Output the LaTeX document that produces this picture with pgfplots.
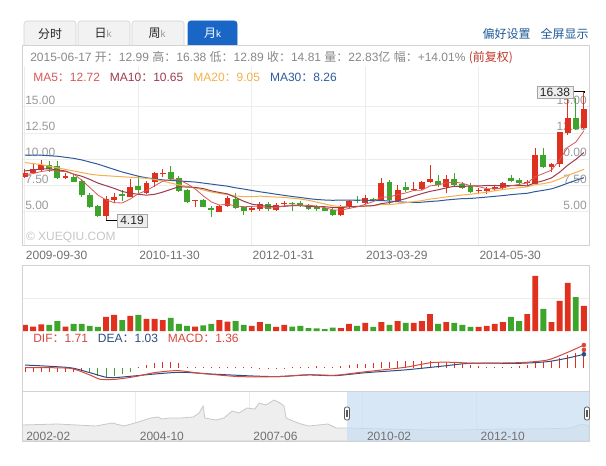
\documentclass[border=0pt]{standalone}
\usepackage{fontspec}
\setmainfont{Liberation Sans}
\newfontfamily\cjk{Noto Sans CJK SC}
\usepackage{pgfplots}
\usepackage{pgfplotstable}
\pgfplotsset{compat=1.18}

\definecolor{kred}{HTML}{E0301E}
\definecolor{kgreen}{HTML}{3DA52B}
\definecolor{maA}{HTML}{D9585A}
\definecolor{maB}{HTML}{9C3D4C}
\definecolor{maC}{HTML}{F5B04C}
\definecolor{maD}{HTML}{2D5B9E}
\definecolor{gridc}{HTML}{EDEDED}
\definecolor{boxc}{HTML}{D2D2D2}
\definecolor{lblc}{HTML}{999999}
\definecolor{datec}{HTML}{707070}
\definecolor{txtc}{HTML}{888888}
\definecolor{tabc}{HTML}{F2F2F2}
\definecolor{tabblue}{HTML}{1A66C6}
\definecolor{linkc}{HTML}{1F5A9A}
\definecolor{fqc}{HTML}{C0392B}
\definecolor{difc}{HTML}{D8473C}
\definecolor{deac}{HTML}{2A4E80}
\definecolor{navfill}{HTML}{EEEEEE}
\definecolor{navline}{HTML}{C8C8C8}
\definecolor{navsel}{HTML}{C9DEF3}

\newcommand\zh[1]{{\cjk #1}}
\newcommand\fs{\fontsize{9pt}{10pt}\selectfont}

% monthly candles, red = up, green = down (v = volume, 100M)
\pgfplotstableread{
i o h l c v
0 8.30 9.05 8.20 8.68 5.5
1 8.68 9.60 8.60 9.05 4.0
2 8.99 9.94 8.93 9.47 6.1
5 8.20 8.68 8.10 8.45 4.0
10 4.62 6.52 4.19 6.20 12.8
11 6.14 6.78 5.82 6.46 14.6
13 6.46 8.10 6.40 7.41 13.7
15 6.84 7.98 6.71 7.72 11.0
16 7.88 8.83 7.40 8.68 11.0
17 8.68 9.05 8.36 8.74 10.0
21 6.05 6.16 5.50 6.14 4.0
24 5.03 5.67 4.97 5.57 10.0
25 5.57 6.52 5.50 6.30 8.5
28 5.19 5.50 5.03 5.35 4.6
29 5.25 5.98 5.13 5.76 8.2
31 5.19 5.83 5.10 5.67 3.7
32 5.79 6.05 5.60 5.89 5.5
39 4.68 5.66 4.62 5.57 2.7
40 5.44 6.14 5.25 6.08 6.4
42 5.89 6.62 5.76 6.30 7.3
44 6.05 8.20 6.00 7.72 8.2
46 6.08 7.57 6.01 7.09 9.1
48 7.09 7.88 7.03 7.22 7.3
49 7.15 7.95 7.09 7.88 9.1
50 7.88 9.47 7.72 8.10 15.5
52 7.41 8.52 6.77 8.10 8.2
56 6.99 7.25 6.71 7.12 3.7
57 7.00 7.38 6.71 7.19 4.6
58 7.19 7.50 7.00 7.41 6.4
59 7.25 7.88 7.19 7.79 8.2
62 7.79 8.04 7.57 7.88 15.5
63 7.66 11.10 7.57 10.42 50.2
65 9.30 9.63 8.77 9.56 8.2
66 9.56 12.64 9.30 12.57 27.4
67 12.48 16.30 12.32 13.90 43.8
69 12.99 16.38 12.89 14.81 22.83
}\uptbl

\pgfplotstableread{
i o h l c v
3 9.47 9.88 8.83 9.05 5.5
4 9.37 9.88 8.10 8.20 9.1
6 8.36 8.50 7.82 7.88 6.4
7 7.98 8.10 6.46 6.62 6.4
8 6.62 6.78 5.40 5.50 4.6
9 5.57 5.67 4.56 4.62 3.7
12 6.68 7.09 6.08 6.52 10.0
14 7.47 8.42 6.77 7.09 14.6
18 8.83 9.37 8.04 8.10 11.9
19 8.20 8.42 6.93 7.03 6.4
20 7.09 7.15 5.82 5.92 4.6
22 6.14 6.20 5.45 5.50 5.2
23 5.41 5.57 4.56 5.19 6.4
26 6.20 6.77 5.29 5.35 9.1
27 5.50 5.57 4.68 5.10 5.5
30 5.76 5.98 5.13 5.25 6.4
33 5.90 5.98 5.13 5.76 4.0
34 5.89 6.05 5.50 5.63 4.6
35 5.63 5.76 5.19 5.29 2.7
36 5.50 5.66 5.13 5.25 2.4
37 5.35 5.44 5.06 5.13 1.8
38 5.19 5.35 4.62 4.68 3.0
41 6.14 6.52 5.83 6.01 4.6
43 6.24 6.30 5.95 6.01 3.7
45 7.82 8.04 5.76 6.14 5.5
47 7.34 7.88 6.93 7.09 7.3
51 7.98 8.52 7.41 7.57 6.4
53 8.10 8.68 7.41 7.57 7.3
54 7.63 7.82 7.19 7.31 5.5
55 7.50 7.72 6.77 6.93 3.7
60 8.26 8.52 7.88 7.98 12.8
61 8.04 8.26 7.57 7.72 9.1
64 10.42 11.10 9.15 9.30 20.1
68 13.97 15.80 12.80 12.89 31.0
}\dntbl

\pgfplotstableread{
i ma5 ma10 ma20 ma30
0 8.55 8.90 9.70 10.40
1 8.65 9.00 9.60 10.40
2 8.85 9.10 9.50 10.40
3 8.95 9.10 9.35 10.35
4 8.89 9.00 9.20 10.30
5 8.84 8.90 9.05 10.20
6 8.61 8.60 8.90 10.10
7 8.04 8.40 8.75 9.95
8 7.33 8.10 8.60 9.75
9 6.61 7.75 8.50 9.55
10 6.16 7.50 8.45 9.30
11 5.88 7.25 8.40 9.05
12 5.86 6.95 8.35 8.80
13 6.24 6.79 8.30 8.60
14 6.74 6.68 8.25 8.40
15 7.04 6.60 8.20 8.25
16 7.48 6.68 8.10 8.15
17 7.93 6.89 7.95 8.05
18 8.07 7.15 7.75 8.00
19 8.05 7.40 7.57 7.95
20 7.69 7.37 7.44 7.90
21 7.19 7.34 7.29 7.85
22 6.54 7.23 7.09 7.75
23 5.96 7.01 6.90 7.65
24 5.66 6.86 6.77 7.55
25 5.74 6.72 6.66 7.45
26 5.58 6.38 6.53 7.30
27 5.50 6.02 6.46 7.18
28 5.53 5.75 6.45 7.05
29 5.57 5.62 6.51 6.92
30 5.36 5.55 6.46 6.81
31 5.43 5.50 6.42 6.69
32 5.58 5.54 6.39 6.58
33 5.67 5.60 6.31 6.47
34 5.64 5.61 6.23 6.38
35 5.65 5.51 6.11 6.27
36 5.56 5.50 5.94 6.19
37 5.41 5.50 5.76 6.14
38 5.20 5.43 5.59 6.11
39 5.18 5.41 5.52 6.14
40 5.34 5.50 5.52 6.14
41 5.49 5.53 5.52 6.12
42 5.73 5.57 5.56 6.12
43 5.99 5.60 5.60 6.07
44 6.42 5.80 5.71 6.09
45 6.44 5.89 5.70 6.04
46 6.65 6.07 5.78 5.98
47 6.81 6.27 5.88 5.93
48 7.05 6.52 5.98 5.90
49 7.08 6.75 6.08 5.93
50 7.48 6.96 6.23 6.00
51 7.57 7.11 6.32 6.05
52 7.77 7.29 6.43 6.14
53 7.84 7.45 6.52 6.21
54 7.73 7.41 6.61 6.27
55 7.50 7.49 6.69 6.29
56 7.41 7.49 6.78 6.35
57 7.22 7.50 6.88 6.42
58 7.19 7.52 7.02 6.49
59 7.29 7.51 7.13 6.56
60 7.50 7.50 7.23 6.65
61 7.62 7.51 7.31 6.72
62 7.76 7.49 7.39 6.78
63 8.36 7.78 7.61 6.94
64 8.66 7.97 7.69 7.06
65 8.98 8.24 7.86 7.20
66 9.95 8.78 8.14 7.45
67 11.15 9.45 8.48 7.74
68 11.64 10.00 8.76 8.01
69 12.72 10.65 9.05 8.26
}\matbl

\pgfplotstableread{
j m
0 -0.28
1 -0.30
2 -0.30
3 -0.30
4 -0.30
5 -0.30
6 -0.28
7 -0.25
14 0.10
15 0.22
16 0.37
17 0.44
18 0.48
19 0.37
20 0.12
21 0.12
22 0.10
23 0.10
24 0.12
25 0.12
26 0.10
27 0.10
28 0.08
29 0.05
30 0.05
31 0.05
32 0.05
33 0.10
34 0.12
35 0.12
36 0.15
37 0.12
38 0.12
39 0.15
40 0.22
41 0.29
42 0.33
43 0.37
44 0.44
45 0.48
46 0.51
47 0.51
48 0.51
49 0.51
50 0.51
51 0.45
52 0.44
53 0.37
54 0.29
55 0.22
56 0.15
57 0.07
58 0.07
59 0.07
60 0.10
61 0.15
62 0.22
63 0.37
64 0.44
65 0.51
66 0.74
67 1.00
68 1.10
69 1.36
}\hred

\pgfplotstableread{
j m
8 -0.35
9 -0.60
10 -0.70
11 -0.60
12 -0.45
13 -0.25
}\hgreen

\pgfplotstableread{
m h
0 16
10.1 17
20.8 15
25.4 18
28.7 15
31.8 18
36.3 23
38.3 24
39.4 22
41.7 23
44.8 23
48.2 24
49.9 28
51.0 35
51.5 23
54.6 21
56.9 23
59.2 30
61.1 28
63.4 33
65.6 32
66.8 38
68.7 36
71.0 41
72.7 38
73.8 35
74.4 23
76.3 20
78.6 17
80.8 15
86.2 17
88.5 13
91.5 13
102.5 12
113.5 11
124.2 11
135.2 12
146.2 12
154.6 13
158.0 17
159.7 15
}\navtbl

\pgfplotsset{
  kax/.style={scale only axis, width=425.25pt, anchor=south west,
    xmin=-0.3704, xmax=69.63, axis line style={draw=none},
    major tick length=0pt, grid style={gridc, line width=0.75pt}},
}
\tikzset{navlbl/.style={anchor=west, inner sep=0pt, font=\fs, text=datec}}

\begin{document}
\begin{tikzpicture}[x=0.75pt,y=-0.75pt]
\useasboundingbox (0,0) rectangle (606,466);
\fill[white] (0,0) rectangle (606,466);

% tabs
\filldraw[fill=tabc, draw=boxc, rounded corners=2pt] (24,46) -- (24,21) -- (76,21) -- (76,46);
\filldraw[fill=tabc, draw=boxc, rounded corners=2pt] (78,46) -- (78,21) -- (130,21) -- (130,46);
\filldraw[fill=tabc, draw=boxc, rounded corners=2pt] (132,46) -- (132,21) -- (184,21) -- (184,46);
\filldraw[fill=tabblue, draw=tabblue, rounded corners=2pt] (188,46) -- (188,21) -- (237,21) -- (237,46);
\node[font=\fs, text=black!85] at (50,33.5) {\zh{分时}};
\node[font=\fs, text=black!85] at (103,33.5) {\zh{日}{\fontsize{7.5pt}{8pt}\selectfont\color{lblc}k}};
\node[font=\fs, text=black!85] at (157,33.5) {\zh{周}{\fontsize{7.5pt}{8pt}\selectfont\color{lblc}k}};
\node[font=\fs, text=white] at (212.5,33.5) {\zh{月}{\fontsize{7.5pt}{8pt}\selectfont k}};
\node[anchor=east, font=\fs, text=linkc, inner sep=0pt] at (531,33.5) {\zh{偏好设置}};
\node[anchor=east, font=\fs, text=linkc, inner sep=0pt] at (589,33.5) {\zh{全屏显示}};

% price panel
\begin{axis}[kax, at={(16.5pt,-184.5pt)}, height=135pt, ymin=1.768, ymax=18.878,
  xtick={0,14,28,42,56},
  xticklabels={2009-09-30,2010-11-30,2012-01-31,2013-03-29,2014-05-30},
  xticklabel style={anchor=west, inner sep=0pt, xshift=0.5pt, yshift=-6.75pt, font=\fs, text=datec},
  ytick={5,7.5,10,12.5,15}, yticklabels={}, xmajorgrids, ymajorgrids]
\node[anchor=west, inner sep=0pt, xshift=2.25pt, yshift=4.9pt, font=\fs, text=lblc] at (axis cs:-0.3704,15) {15.00};
\node[anchor=west, inner sep=0pt, xshift=2.25pt, yshift=4.9pt, font=\fs, text=lblc] at (axis cs:-0.3704,12.5) {12.50};
\node[anchor=west, inner sep=0pt, xshift=2.25pt, yshift=4.9pt, font=\fs, text=lblc] at (axis cs:-0.3704,10) {10.00};
\node[anchor=west, inner sep=0pt, xshift=2.25pt, yshift=4.9pt, font=\fs, text=lblc] at (axis cs:-0.3704,7.5) {7.50};
\node[anchor=west, inner sep=0pt, xshift=2.25pt, yshift=4.9pt, font=\fs, text=lblc] at (axis cs:-0.3704,5) {5.00};
\node[anchor=east, inner sep=0pt, xshift=-1.5pt, yshift=4.9pt, font=\fs, text=lblc] at (axis cs:69.63,15) {15.00};
\node[anchor=east, inner sep=0pt, xshift=-1.5pt, yshift=4.9pt, font=\fs, text=lblc] at (axis cs:69.63,12.5) {12.50};
\node[anchor=east, inner sep=0pt, xshift=-1.5pt, yshift=4.9pt, font=\fs, text=lblc] at (axis cs:69.63,10) {10.00};
\node[anchor=east, inner sep=0pt, xshift=-1.5pt, yshift=4.9pt, font=\fs, text=lblc] at (axis cs:69.63,7.5) {7.50};
\node[anchor=east, inner sep=0pt, xshift=-1.5pt, yshift=4.9pt, font=\fs, text=lblc] at (axis cs:69.63,5) {5.00};
\node[anchor=west, inner sep=0pt, font=\fs, text=black!22] at (axis cs:0.1,2.55) {© XUEQIU.COM};
% wicks
\addplot[kred, line width=0.75pt, quiver={u=0, v=\thisrow{h}-\thisrow{l}}] table[x=i, y=l] {\uptbl};
\addplot[kgreen, line width=0.75pt, quiver={u=0, v=\thisrow{h}-\thisrow{l}}] table[x=i, y=l] {\dntbl};
% bodies
\addplot[kred, line width=4.4pt, quiver={u=0, v=\thisrow{c}-\thisrow{o}}] table[x=i, y=o] {\uptbl};
\addplot[kgreen, line width=4.4pt, quiver={u=0, v=\thisrow{c}-\thisrow{o}}] table[x=i, y=o] {\dntbl};
% moving averages
\addplot[maD, line width=0.75pt] table[x=i, y=ma30] {\matbl};
\addplot[maC, line width=0.75pt] table[x=i, y=ma20] {\matbl};
\addplot[maB, line width=0.75pt] table[x=i, y=ma10] {\matbl};
\addplot[maA, line width=0.6pt] table[x=i, y=ma5] {\matbl};
\end{axis}

% volume panel
\begin{axis}[kax, at={(16.5pt,-248.25pt)}, height=48.75pt, ymin=0, ymax=59.3,
  xtick=\empty, ytick={30}, yticklabels={}, ymajorgrids]
\addplot[ybar, bar width=4.4pt, bar shift=0pt, fill=kred, draw=none] table[x=i, y=v] {\uptbl};
\addplot[ybar, bar width=4.4pt, bar shift=0pt, fill=kgreen, draw=none] table[x=i, y=v] {\dntbl};
\end{axis}

% MACD panel
\begin{axis}[kax, at={(16.5pt,-293.625pt)}, height=45.375pt, ymin=-1.706, ymax=2.743,
  xtick=\empty, ytick=\empty]
\addplot[ycomb, kred, line width=0.75pt] table[x=j, y=m] {\hred};
\addplot[ycomb, kgreen, line width=0.75pt] table[x=j, y=m] {\hgreen};
\addplot[deac, line width=0.75pt, smooth, tension=0.4] coordinates {
  (0,0.24) (5.5,0.05) (8,-0.32) (10.3,-0.69) (12.6,-0.61) (16,-0.42) (19.3,-0.29)
  (23,-0.42) (27.9,-0.56) (31.2,-0.61) (35,-0.49) (38.3,-0.54) (42.1,-0.32)
  (46.9,-0.12) (51.7,0.17) (55,0.37) (61.2,0.37) (64.5,0.49) (66.9,0.74) (69,1.03)};
\addplot[difc, line width=0.75pt, smooth, tension=0.4] coordinates {
  (0,0.05) (5.5,0) (8,-0.49) (9.3,-0.81) (11.2,-0.81) (13.6,-0.61) (16,-0.32)
  (18.8,-0.17) (21.7,-0.37) (26.4,-0.61) (31.2,-0.61) (35,-0.47) (38.3,-0.51)
  (42.1,-0.25) (46.9,0.07) (50.2,0.42) (53,0.44) (55.5,0.37) (61.2,0.42)
  (64.5,0.61) (66.9,1.15) (69,1.71)};
\addplot[only marks, mark=*, mark size=1.5pt, difc] coordinates {(69,1.71) (69,1.36)};
\addplot[only marks, mark=*, mark size=1.5pt, deac] coordinates {(69,1.03)};
\end{axis}

% navigator
\begin{axis}[scale only axis, width=425.25pt, height=37.125pt, anchor=south west,
  at={(16.5pt,-330.75pt)}, xmin=0, xmax=159.7, ymin=0, ymax=49.5,
  axis line style={draw=none}, major tick length=0pt,
  xtick={0,32,64,96,128}, xticklabels={}, ytick=\empty,
  xmajorgrids, grid style={gridc, line width=0.75pt}]
\addplot[fill=navfill, draw=navline, line width=0.6pt] table[x=m, y=h] {\navtbl} \closedcycle;
\end{axis}
\fill[navsel, opacity=0.72] (347,391.5) rectangle (589,441);
\node[navlbl] at (26,436) {2002-02};
\node[navlbl] at (139.6,436) {2004-10};
\node[navlbl] at (253.2,436) {2007-06};
\node[navlbl] at (366.8,436) {2010-02};
\node[navlbl] at (480.4,436) {2012-10};

% frames
\draw[boxc, line width=0.75pt] (22,46) rectangle (589,246);
\draw[boxc, line width=0.75pt] (22,266) rectangle (589,441);
\draw[boxc, line width=0.75pt] (22,391.5) -- (589,391.5);

% handles
\filldraw[fill=white, draw=black!65, line width=0.6pt, rounded corners=1.5pt] (344.5,407) rectangle (349.5,420);
\draw[black!65, line width=0.5pt] (346.3,410) -- (346.3,417) (347.7,410) -- (347.7,417);
\filldraw[fill=white, draw=black!65, line width=0.6pt, rounded corners=1.5pt] (584.5,407) rectangle (589.5,420);
\draw[black!65, line width=0.5pt] (586.3,410) -- (586.3,417) (587.7,410) -- (587.7,417);

% header texts
\node[anchor=west, font=\fs, text=txtc, inner sep=0pt] at (30,58) {2015-06-17 \zh{开：}12.99 \zh{高：}16.38 \zh{低：}12.89 \zh{收：}14.81 \zh{量：}22.83\zh{亿} \zh{幅：}+14.01\% \textcolor{fqc}{\zh{(前复权)}}};
\node[anchor=west, font=\fs, inner sep=0pt] at (33,77) {\textcolor{maA}{MA5\zh{：}12.72}\hspace{7.5pt}\textcolor{maB}{MA10\zh{：}10.65}\hspace{7.5pt}\textcolor{maC}{MA20\zh{：}9.05}\hspace{7.5pt}\textcolor{maD}{MA30\zh{：}8.26}};
\node[anchor=west, font=\fs, inner sep=0pt] at (33,338.5) {\textcolor{difc}{DIF\zh{：}1.71}\hspace{7.5pt}\textcolor{deac}{DEA\zh{：}1.03}\hspace{7.5pt}\textcolor{difc}{MACD\zh{：}1.36}};

% high / low markers
\draw[black, line width=0.75pt] (573,91.5) -- (584.5,91.5) -- (584.5,93);
\filldraw[fill=black!7, draw=black!35, line width=0.6pt] (537,86) rectangle (573,98);
\node[font=\fs, text=black!85, inner sep=0pt] at (555,92) {16.38};
\draw[black, line width=0.75pt] (106,220.5) -- (117,220.5);
\filldraw[fill=black!7, draw=black!35, line width=0.6pt] (117,214) rectangle (147,227);
\node[font=\fs, text=black!85, inner sep=0pt] at (132,220.5) {4.19};
\end{tikzpicture}
\end{document}
